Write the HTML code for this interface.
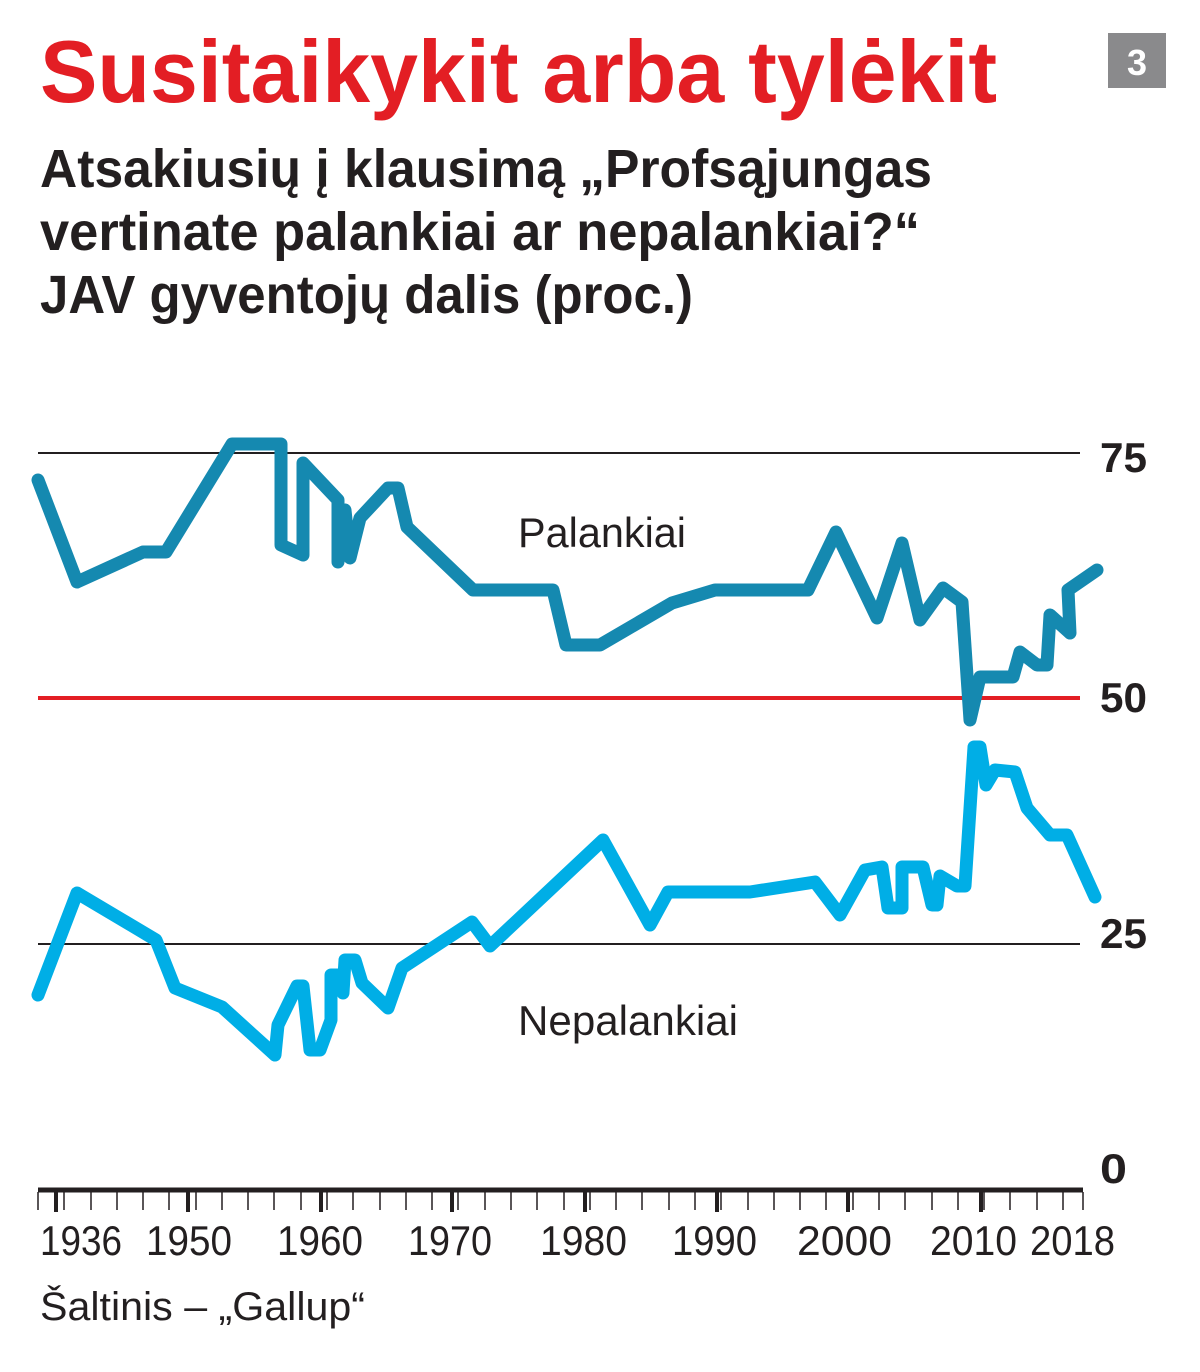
<!DOCTYPE html>
<html><head><meta charset="utf-8"><style>html,body{margin:0;padding:0;background:#fff}svg{display:block}</style></head>
<body>
<svg width="1200" height="1372" viewBox="0 0 1200 1372" xmlns="http://www.w3.org/2000/svg" font-family="'Liberation Sans', sans-serif">
<text x="40" y="102" font-size="88" font-weight="bold" fill="#e31e24" textLength="957" lengthAdjust="spacingAndGlyphs">Susitaikykit arba tylėkit</text>
<rect x="1108" y="33" width="58" height="55" fill="#8a8a8c"/>
<text x="1137" y="75" font-size="36" font-weight="bold" fill="#fff" text-anchor="middle">3</text>
<g font-size="54" font-weight="bold" fill="#231f20">
<text x="40" y="187" textLength="892" lengthAdjust="spacingAndGlyphs">Atsakiusių į klausimą „Profsąjungas</text>
<text x="40" y="250" textLength="880" lengthAdjust="spacingAndGlyphs">vertinate palankiai ar nepalankiai?“</text>
<text x="40" y="313" textLength="653" lengthAdjust="spacingAndGlyphs">JAV gyventojų dalis (proc.)</text>
</g>
<line x1="38" y1="453" x2="1080" y2="453" stroke="#231f20" stroke-width="2"/>
<line x1="38" y1="944" x2="1080" y2="944" stroke="#231f20" stroke-width="2"/>
<line x1="38" y1="698" x2="1080" y2="698" stroke="#e31e24" stroke-width="4"/>
<line x1="38" y1="1190" x2="1083" y2="1190" stroke="#231f20" stroke-width="5"/>
<path d="M38 1192V1210M64 1192V1210M91 1192V1210M117 1192V1210M143 1192V1210M169 1192V1210M196 1192V1210M222 1192V1210M248 1192V1210M274 1192V1210M301 1192V1210M327 1192V1210M353 1192V1210M380 1192V1210M406 1192V1210M432 1192V1210M458 1192V1210M485 1192V1210M511 1192V1210M537 1192V1210M564 1192V1210M590 1192V1210M616 1192V1210M642 1192V1210M669 1192V1210M695 1192V1210M721 1192V1210M748 1192V1210M774 1192V1210M800 1192V1210M826 1192V1210M853 1192V1210M879 1192V1210M905 1192V1210M932 1192V1210M958 1192V1210M984 1192V1210M1010 1192V1210M1037 1192V1210M1063 1192V1210M1083 1192V1210" stroke="#231f20" stroke-width="1.5"/>
<path d="M56 1192V1212M188 1192V1212M321 1192V1212M452 1192V1212M585 1192V1212M717 1192V1212M848 1192V1212M981 1192V1212" stroke="#231f20" stroke-width="4"/>
<polyline fill="none" stroke="#1589b0" stroke-width="13" stroke-linejoin="round" stroke-linecap="round" points="38,480 77,582 143,552 166,552 232,444 281,444 281,545 303,555 303,463 338,500 338,562 345,510 350,558 360,518 388,488 398,488 407,527 473,590 553,590 566,645 600,645 672,603 715,590 808,590 836,532 877,618 902,543 920,620 943,588 962,602 970,720 980,677 1013,677 1020,652 1037,665 1047,665 1050,615 1070,633 1068,590 1097,570"/>
<polyline fill="none" stroke="#00aee6" stroke-width="13" stroke-linejoin="round" stroke-linecap="round" points="38,995 77,893 156,940 175,988 222,1007 275,1055 278,1025 297,986 303,986 310,1050 320,1050 331,1020 331,975 343,975 343,993 345,960 355,960 362,983 388,1008 402,968 472,922 490,946 603,840 650,925 668,892 750,892 815,882 840,915 865,870 882,867 888,908 902,908 902,867 923,867 932,905 937,905 940,876 957,886 965,886 974,747 980,747 986,785 995,770 1015,772 1027,808 1050,835 1067,835 1095,897"/>
<text x="518" y="547" font-size="42" fill="#231f20" textLength="168" lengthAdjust="spacingAndGlyphs">Palankiai</text>
<text x="518" y="1035" font-size="42" fill="#231f20" textLength="220" lengthAdjust="spacingAndGlyphs">Nepalankiai</text>
<g font-size="42" font-weight="bold" fill="#231f20">
<text x="1100" y="472" textLength="47" lengthAdjust="spacingAndGlyphs">75</text>
<text x="1100" y="712" textLength="47" lengthAdjust="spacingAndGlyphs">50</text>
<text x="1100" y="948" textLength="47" lengthAdjust="spacingAndGlyphs">25</text>
<text x="1100" y="1183" textLength="27" lengthAdjust="spacingAndGlyphs">0</text>
</g>
<g font-size="42" fill="#231f20">
<text x="40" y="1255" textLength="82" lengthAdjust="spacingAndGlyphs">1936</text>
<text x="146" y="1255" textLength="86" lengthAdjust="spacingAndGlyphs">1950</text>
<text x="277" y="1255" textLength="86" lengthAdjust="spacingAndGlyphs">1960</text>
<text x="408" y="1255" textLength="84" lengthAdjust="spacingAndGlyphs">1970</text>
<text x="540" y="1255" textLength="87" lengthAdjust="spacingAndGlyphs">1980</text>
<text x="672" y="1255" textLength="85" lengthAdjust="spacingAndGlyphs">1990</text>
<text x="797" y="1255" textLength="95" lengthAdjust="spacingAndGlyphs">2000</text>
<text x="930" y="1255" textLength="87" lengthAdjust="spacingAndGlyphs">2010</text>
<text x="1030" y="1255" textLength="85" lengthAdjust="spacingAndGlyphs">2018</text>
<text x="40" y="1320" font-size="40" textLength="325" lengthAdjust="spacingAndGlyphs">Šaltinis – „Gallup“</text>
</g>
</svg>
</body></html>
